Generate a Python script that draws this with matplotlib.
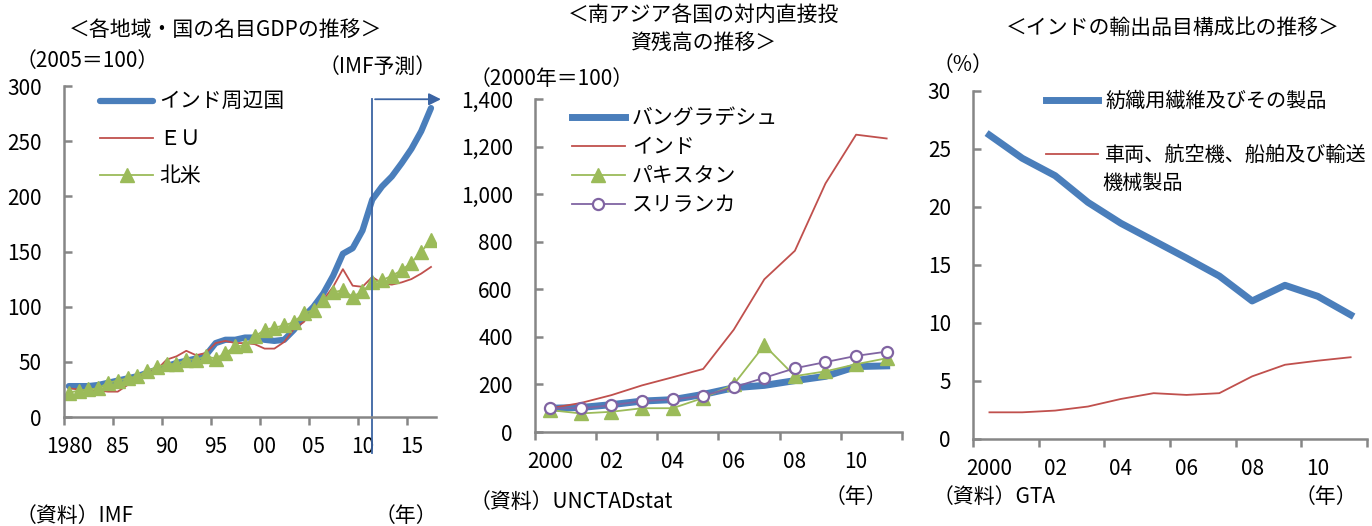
import numpy as np
import matplotlib.pyplot as plt
from matplotlib.ticker import FuncFormatter

plt.rcParams['font.family'] = ['Noto Sans CJK JP', 'DejaVu Sans']
plt.rcParams['font.size'] = 15

# 各地域・国の名目GDP (2005=100)
anos_gdp = list(range(1980, 2018))
rotulos_gdp = ['1980', '85', '90', '95', '00', '05', '10', '15']
gdp_india_vizinhos = [28, 28, 28, 29, 31, 33, 35, 37, 40, 43, 46, 49, 51, 53, 56, 67, 70, 70, 72, 72,
                      70, 69, 70, 79, 91, 100, 112, 128, 148, 153, 169, 197, 209, 218, 230, 243, 259, 280]
gdp_eu = [26, 25, 24, 24, 23, 23, 29, 35, 40, 43, 52, 55, 60, 56, 58, 67, 69, 67, 67, 66,
          62, 62, 68, 80, 86, 98, 106, 118, 134, 119, 118, 127, 121, 120, 122, 125, 130, 136]
gdp_america_norte = [22, 24, 25, 26, 31, 33, 35, 37, 42, 45, 48, 48, 52, 52, 55, 53, 58, 64, 65, 73,
                     79, 81, 83, 86, 94, 97, 106, 113, 115, 109, 114, 122, 124, 128, 133, 140, 150, 160]
ano_previsao = 2011

# 南アジア各国の対内直接投資残高 (2000年=100)
anos_fdi = list(range(2000, 2012))
rotulos_fdi = ['2000', '02', '04', '06', '08', '10']
fdi_bangladesh = [100, 103, 115, 130, 136, 158, 186, 196, 216, 234, 275, 278]
fdi_india = [100, 122, 155, 196, 230, 265, 430, 642, 762, 1045, 1250, 1234]
fdi_paquistao = [92, 78, 85, 100, 100, 143, 200, 365, 235, 255, 285, 310]
fdi_sri_lanka = [100, 100, 112, 130, 137, 152, 188, 228, 268, 294, 320, 338]

# インドの輸出品目構成比 (%)
anos_exp = list(range(2000, 2012))
rotulos_exp = ['2000', '02', '04', '06', '08', '10']
exp_texteis = [26.2, 24.2, 22.7, 20.4, 18.6, 17.1, 15.6, 14.05, 11.9, 13.25, 12.3, 10.7]
exp_veiculos = [2.3, 2.3, 2.45, 2.8, 3.45, 3.95, 3.8, 3.95, 5.4, 6.4, 6.75, 7.05]

azul = '#4a7ebb'
vermelho = '#c0504d'
verde = '#9bbb59'
roxo = '#8064a2'
cinza = '#868686'


def preparar_eixo(ax, n, grupo, rotulos, ymax, passo):
    ax.set_xlim(-0.5, n - 0.5)
    ax.set_ylim(0, ymax)
    ax.set_xticks(np.arange(-0.5, n + 0.5, grupo))
    ax.set_xticklabels([])
    ax.set_xticks(np.arange(0, n, grupo), minor=True)
    ax.set_xticklabels(rotulos, minor=True)
    ax.tick_params(axis='x', which='major', direction='out', length=6, width=1.8, color=cinza)
    ax.tick_params(axis='x', which='minor', length=0, pad=14)
    ax.set_yticks(np.arange(0, ymax + 1, passo))
    ax.tick_params(axis='y', direction='in', length=6, width=1.8, color=cinza, pad=16)
    for lado in ['top', 'right']:
        ax.spines[lado].set_visible(False)
    for lado in ['left', 'bottom']:
        ax.spines[lado].set_color(cinza)
        ax.spines[lado].set_linewidth(1.8)


fig = plt.figure(figsize=(13.72, 5.26), dpi=100)

# ---- painel 1
ax1 = fig.add_axes([0.0466, 0.2072, 0.2711, 0.6293])
x1 = np.arange(len(anos_gdp))
ax1.plot(x1, gdp_india_vizinhos, color=azul, lw=4.5, label='インド周辺国', solid_capstyle='round')
ax1.plot(x1, gdp_eu, color=vermelho, lw=1.3, label='ＥＵ')
ax1.plot(x1, gdp_america_norte, color=verde, lw=1.3, marker='^', ms=9.5, label='北米')
preparar_eixo(ax1, len(anos_gdp), 5, rotulos_gdp, 300, 50)
ax1.legend(loc='upper left', bbox_to_anchor=(0.097, 0.985), frameon=False, borderpad=0,
           borderaxespad=0, handlelength=2.55, handletextpad=0.3, labelspacing=0.72)

# linha de previsão do FMI
xp = anos_gdp.index(ano_previsao)
ax1.plot([xp, xp], [288, -33], color='#3b64a3', lw=1.3, clip_on=False)
ax1.annotate('', xy=(len(anos_gdp) + 0.3, 288), xytext=(xp, 288),
             arrowprops=dict(arrowstyle='-|>', color='#3b64a3', lw=1.3, mutation_scale=18),
             annotation_clip=False)

fig.text(0.1647, 0.943, '＜各地域・国の名目GDPの推移＞', ha='center', va='center')
fig.text(0.011, 0.884, '（2005＝100）', ha='left', va='center')
fig.text(0.3185, 0.873, '（IMF予測）', ha='right', va='center')
fig.text(0.011, 0.019, '（資料）IMF', ha='left', va='center')
fig.text(0.3185, 0.019, '（年）', ha='right', va='center')

# ---- painel 2
ax2 = fig.add_axes([0.3899, 0.1787, 0.2675, 0.6331])
x2 = np.arange(len(anos_fdi))
ax2.plot(x2, fdi_bangladesh, color=azul, lw=5, label='バングラデシュ')
ax2.plot(x2, fdi_india, color=vermelho, lw=1.3, label='インド')
ax2.plot(x2, fdi_paquistao, color=verde, lw=1.3, marker='^', ms=9.5, label='パキスタン')
ax2.plot(x2, fdi_sri_lanka, color=roxo, lw=1.3, marker='o', ms=8, mfc='white', mec=roxo, mew=1.6,
         label='スリランカ')
preparar_eixo(ax2, len(anos_fdi), 2, rotulos_fdi, 1400, 200)
ax2.yaxis.set_major_formatter(FuncFormatter(lambda v, p: f'{v:,.0f}'))
ax2.legend(loc='upper left', bbox_to_anchor=(0.10, 0.975), frameon=False, borderpad=0,
           borderaxespad=0, handlelength=2.55, handletextpad=0.35, labelspacing=0.33)

fig.text(0.5124, 0.945, '＜南アジア各国の対内直接投\n資残高の推移＞', ha='center', va='center',
         linespacing=1.3)
fig.text(0.342, 0.850, '（2000年＝100）', ha='left', va='center')
fig.text(0.342, 0.0456, '（資料）UNCTADstat', ha='left', va='center')
fig.text(0.6465, 0.055, '（年）', ha='right', va='center')

# ---- painel 3
ax3 = fig.add_axes([0.7092, 0.1654, 0.2872, 0.6616])
x3 = np.arange(len(anos_exp))
ax3.plot(x3, exp_texteis, color=azul, lw=5, label='紡織用繊維及びその製品')
ax3.plot(x3, exp_veiculos, color=vermelho, lw=1.3, label='車両、航空機、船舶及び輸送')
preparar_eixo(ax3, len(anos_exp), 2, rotulos_exp, 30, 5)
leg3 = ax3.legend(loc='upper left', bbox_to_anchor=(0.185, 1.0), frameon=False, borderpad=0,
                  borderaxespad=0, handlelength=2.6, handletextpad=0.35, labelspacing=1.62,
                  fontsize=14.5)
ax3.text(0.329, 0.733, '機械製品', transform=ax3.transAxes, ha='left', va='center', fontsize=14.5)

fig.text(0.855, 0.947, '＜インドの輸出品目構成比の推移＞', ha='center', va='center')
fig.text(0.680, 0.876, '（%）', ha='left', va='center')
fig.text(0.680, 0.055, '（資料）GTA', ha='left', va='center',
         bbox=dict(facecolor='white', edgecolor='none', pad=1))
fig.text(0.989, 0.055, '（年）', ha='right', va='center')

fig.savefig('out.png', dpi=100)
